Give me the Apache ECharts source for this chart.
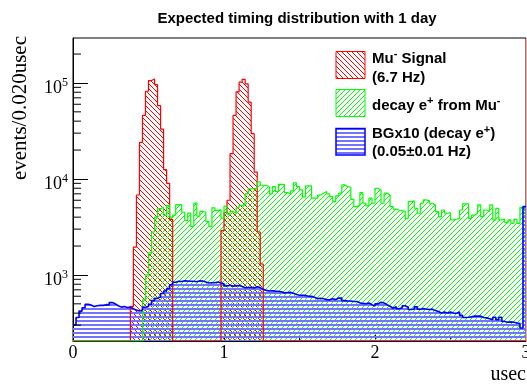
<!DOCTYPE html>
<html>
<head>
<meta charset="utf-8">
<script src="https://cdn.jsdelivr.net/npm/echarts@6/dist/echarts.min.js"></script>
<style>
  html, body { margin: 0; padding: 0; background: #fff; }
  #chart { width: 527px; height: 384px; }
</style>
</head>
<body>
<div id="chart"></div>
<script>
// histogram binning (usec)
const BIN = 0.02;
const X_MAX = 3;
const Y_MIN = 205;
const Y_MAX = 294000;

// Mu- signal: two beam pulses, counts per 0.02 usec bin
const pulse1Start = 0.38;
const pulse1Counts = [470, 1950, 6800, 24000, 46000, 82000, 106000, 110000, 96000, 58000, 33000, 12500, 9000, 3800];
const pulse2Start = 0.98;
const pulse2Counts = [2900, 4500, 6000, 18400, 46000, 80600, 102000, 109000, 98000, 63000, 29600, 11800, 2800, 1300];

// decay e+ from Mu-, 150 bins from 0 to 3 usec
const decayCounts = [
  0, 0, 0, 0, 0, 0, 0, 0, 0, 0,
  0, 0, 0, 0, 0, 0, 0, 0, 0, 0,
  0, 0, 0, 550, 1000, 1700, 2800, 4000, 4900, 5100,
  4200, 5300, 4000, 4200, 5400, 5400, 4500, 3700, 4400, 3200,
  5600, 4100, 4600, 4500, 3600, 3200, 5000, 4700, 4800, 3900,
  5200, 4300, 4600, 4400, 5000, 5300, 5500, 7000, 7900, 7900,
  8000, 9300, 8600, 8600, 8300, 7000, 8300, 7400, 8800, 8800,
  7200, 7000, 7500, 9100, 8300, 7700, 6500, 8450, 8450, 6300,
  6300, 6800, 7100, 7400, 7000, 6550, 5800, 6650, 7100, 8660,
  8300, 8200, 6140, 5150, 5360, 7200, 5580, 5240, 6300, 5580,
  8000, 7680, 5580, 7100, 6810, 5150, 4850, 4750, 4680, 4570,
  3890, 5800, 5900, 4950, 4390, 5580, 6040, 5950, 5580, 5360,
  4570, 4050, 4750, 4390, 4450, 3740, 3800, 3890, 4750, 5500,
  5500, 3890, 4200, 4390, 5360, 4050, 4750, 4570, 5360, 3740,
  4950, 3740, 3800, 3500, 3740, 3450, 3800, 3450, 5050, 5000
];

// BG x10 (decay e+), 150 bins
const bgCounts = [
  303, 360, 420, 455, 495, 485, 470, 478, 482, 482,
  490, 488, 515, 500, 478, 462, 470, 458, 462, 445,
  430, 420, 432, 460, 470, 495, 540, 570, 590, 640,
  680, 720, 790, 840, 860, 855, 870, 865, 860, 858,
  850, 870, 865, 845, 825, 828, 830, 845, 825, 810,
  770, 780, 765, 770, 775, 760, 735, 740, 742, 732,
  755, 738, 708, 690, 680, 685, 678, 676, 668, 650,
  655, 660, 645, 625, 614, 614, 612, 600, 598, 585,
  566, 572, 565, 553, 550, 566, 553, 576, 574, 540,
  535, 536, 528, 528, 512, 505, 500, 510, 490, 475,
  500, 520, 510, 490, 472, 450, 468, 445, 455, 478,
  460, 436, 442, 465, 440, 448, 440, 436, 440, 425,
  415, 402, 410, 402, 410, 402, 398, 410, 380, 360,
  362, 367, 372, 372, 372, 360, 357, 350, 342, 362,
  342, 362, 328, 322, 324, 322, 316, 312, 280, 5150
];

const yMinorTicks = [
  300, 400, 500, 600, 700, 800, 900,
  2000, 3000, 4000, 5000, 6000, 7000, 8000, 9000,
  20000, 30000, 40000, 50000, 60000, 70000, 80000, 90000,
  200000
];

const serif = '"Liberation Serif", "Times New Roman", serif';
const sans = '"Liberation Sans", Arial, sans-serif';

// build full signal histogram from the two pulses
const signalCounts = new Array(decayCounts.length).fill(0);
[[pulse1Start, pulse1Counts], [pulse2Start, pulse2Counts]].forEach(([t0, arr]) => {
  const i0 = Math.round(t0 / BIN);
  arr.forEach((c, k) => { signalCounts[i0 + k] = c; });
});

// bin low edges -> step points, empty bins sit on the frame
function histPoints(counts) {
  const pts = counts.map((c, i) => [+(i * BIN).toFixed(2), c > 0 ? c : Y_MIN]);
  pts.push([X_MAX, pts[pts.length - 1][1]]);
  return pts;
}

// ROOT-like fill styles
function hatch(kind, color) {
  const n = kind === 'horiz' ? 4 : 5;
  const c = document.createElement('canvas');
  c.width = n;
  c.height = n;
  const g = c.getContext('2d');
  g.fillStyle = color;
  if (kind === 'horiz') {
    g.fillRect(0, 0, n, 2);
  } else {
    for (let i = 0; i < n; i++) {
      g.fillRect(i, kind === 'back' ? i : n - 1 - i, 1, 1);
    }
  }
  return { image: c, repeat: 'repeat' };
}

const redFill = hatch('back', '#ff0000');
const greenFill = hatch('fwd', '#00ff00');
const blueFill = hatch('horiz', '#7373ff');

function histSeries(name, counts, lineColor, lineWidth, fill) {
  return {
    name: name,
    type: 'line',
    step: 'end',
    symbol: 'none',
    silent: true,
    clip: true,
    data: histPoints(counts),
    lineStyle: { color: lineColor, width: lineWidth },
    areaStyle: { color: fill, opacity: 1, origin: 'start' }
  };
}

const legendFont = { fontFamily: sans, fontSize: 15, fontWeight: 'bold', fill: '#000' };
const supStyle = { fontFamily: sans, fontSize: 11, fontWeight: 'bold', padding: [0, 0, 9, 0] };
const baseStyle = { fontFamily: sans, fontSize: 15, fontWeight: 'bold' };

function legendText(y, text) {
  return {
    type: 'text', x: 372, y: y, z: 100,
    style: Object.assign({}, legendFont, {
      text: text, align: 'left', verticalAlign: 'middle',
      rich: { n: baseStyle, s: supStyle }
    })
  };
}

const chart = echarts.init(document.getElementById('chart'), null, { renderer: 'canvas' });

const option = {
  animation: false,
  title: {
    text: 'Expected timing distribution with 1 day',
    left: 297,
    top: 11,
    padding: 0,
    textAlign: 'center',
    textStyle: { fontFamily: sans, fontSize: 15, fontWeight: 'bold', color: '#000' }
  },
  grid: {
    left: 73, right: 1, top: 38, bottom: 43,
    show: true, borderColor: '#000', borderWidth: 1,
    outerBoundsMode: 'none'
  },
  xAxis: {
    type: 'value',
    min: 0,
    max: X_MAX,
    interval: 1,
    axisLine: { show: true, lineStyle: { color: '#000', width: 1 } },
    axisTick: { show: true, inside: true, length: 7, lineStyle: { color: '#000' } },
    minorTick: { show: true, splitNumber: 2, length: 4, lineStyle: { color: '#000' } },
    axisLabel: { fontFamily: serif, fontSize: 18, color: '#000', margin: 3 },
    splitLine: { show: false },
    minorSplitLine: { show: false }
  },
  yAxis: {
    type: 'log',
    logBase: 10,
    min: Y_MIN,
    max: Y_MAX,
    axisLine: { show: true, lineStyle: { color: '#000', width: 1 } },
    axisTick: { show: true, inside: true, length: 15, lineStyle: { color: '#000' } },
    axisLabel: {
      margin: 5,
      color: '#000',
      showMinLabel: false,
      showMaxLabel: false,
      formatter: function (v) {
        const e = Math.round(Math.log10(v));
        if (Math.abs(v - Math.pow(10, e)) > 1e-6 * v) return '';
        return '{b|10}{s|' + e + '}';
      },
      rich: {
        b: { fontFamily: serif, fontSize: 18, color: '#000', padding: [11, 0, 0, 0] },
        s: { fontFamily: serif, fontSize: 12, color: '#000' }
      }
    },
    splitLine: { show: false }
  },
  series: [
    histSeries('Mu- Signal', signalCounts, '#ff0000', 1.2, redFill),
    histSeries('decay e+ from Mu-', decayCounts, '#00ff00', 1.2, greenFill),
    histSeries('BGx10 (decay e+)', bgCounts, '#0000ff', 1.6, blueFill),
    {
      // log-axis minor ticks 2..9 x 10^n
      type: 'custom',
      silent: true,
      clip: false,
      z: 10,
      data: yMinorTicks.map(v => [0, v]),
      encode: { x: 0, y: 1 },
      renderItem: function (params, api) {
        const p = api.coord([api.value(0), api.value(1)]);
        return {
          type: 'line',
          shape: { x1: p[0], y1: p[1], x2: p[0] + 8, y2: p[1] },
          style: { stroke: '#000', lineWidth: 1 }
        };
      }
    }
  ],
  graphic: [
    {
      type: 'text', x: 20, y: 36, rotation: Math.PI / 2,
      style: { text: 'events/0.020usec', fontFamily: serif, fontSize: 21, fill: '#000', align: 'right', verticalAlign: 'middle' }
    },
    {
      type: 'text', x: 526, y: 375,
      style: { text: 'usec', fontFamily: serif, fontSize: 20, fill: '#000', align: 'right', verticalAlign: 'middle' }
    },
    {
      type: 'line', z: 50,
      shape: { x1: 526.5, y1: 38, x2: 526.5, y2: 341 },
      style: { stroke: '#f4a6a6', lineWidth: 1 }
    },
    { type: 'rect', z: 100, shape: { x: 336, y: 51.5, width: 29, height: 27 }, style: { fill: redFill, stroke: '#ff0000', lineWidth: 1 } },
    { type: 'rect', z: 100, shape: { x: 336, y: 89.5, width: 29, height: 27 }, style: { fill: greenFill, stroke: '#00ff00', lineWidth: 1 } },
    { type: 'rect', z: 100, shape: { x: 336, y: 128.5, width: 29, height: 26.5 }, style: { fill: blueFill, stroke: '#0000ff', lineWidth: 1.5 } },
    legendText(58.8, '{n|Mu}{s|-}{n| Signal}'),
    legendText(77.5, '{n|(6.7 Hz)}'),
    legendText(105.8, '{n|decay e}{s|+}{n| from Mu}{s|-}'),
    legendText(134.1, '{n|BGx10 (decay e}{s|+}{n|)}'),
    legendText(152.1, '{n|(0.05±0.01 Hz)}')
  ]
};

chart.setOption(option);
</script>
</body>
</html>
